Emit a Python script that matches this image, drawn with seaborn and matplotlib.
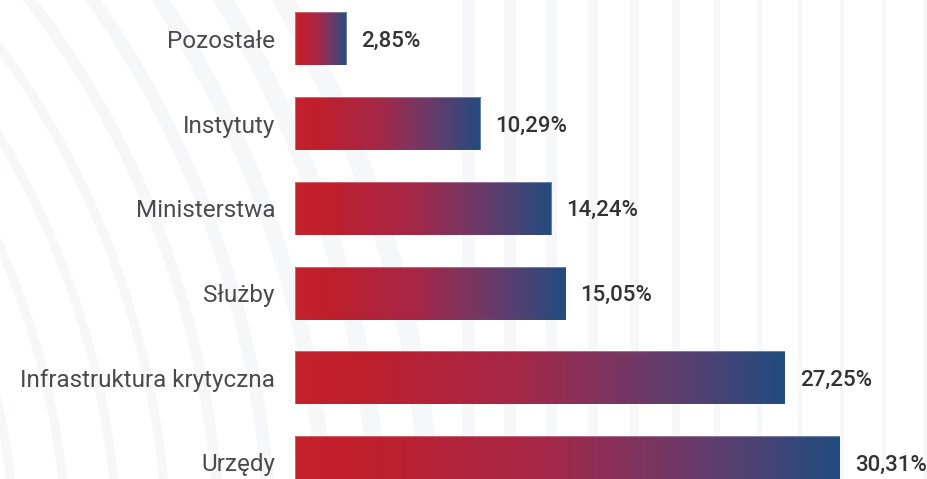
import numpy as np
import matplotlib
matplotlib.use("Agg")
import matplotlib.pyplot as plt
from matplotlib.colors import LinearSegmentedColormap
from matplotlib.patches import Circle
import pandas as pd
import seaborn as sns

# Share of reported incidents by type of institution (%)
categories = ["Pozostałe", "Instytuty", "Ministerstwa", "Służby",
              "Infrastruktura krytyczna", "Urzędy"]
shares = [2.85, 10.29, 14.24, 15.05, 27.25, 30.31]
value_labels = ["2,85%", "10,29%", "14,24%", "15,05%", "27,25%", "30,31%"]

W, H, DPI = 927, 479, 100
PX = 72 / DPI  # points per pixel

sns.set_theme(style="white")
plt.rcParams["font.family"] = ["Roboto", "DejaVu Sans"]

fig = plt.figure(figsize=(W / DPI, H / DPI), dpi=DPI, facecolor="white")

# --- faint decorative rings in the background (pixel coordinates) ---
bg = fig.add_axes([0, 0, 1, 1], zorder=0)
bg.set_xlim(0, W)
bg.set_ylim(H, 0)
bg.axis("off")
ring_color = "#f6f7f9"
cx, cy = -700, 560
ring_x = [5, 57, 108, 158, 210, 260, 315, 367, 418]
ring_w = [9, 9, 9, 9, 11, 13, 16, 18, 20]
for xb, wpx in zip(ring_x, ring_w):
    r = np.hypot(xb + wpx / 2 - cx, cy - 470)
    bg.add_patch(Circle((cx, cy), r, fill=False, lw=wpx * PX, ec=ring_color))
for i, xs in enumerate(range(462, W, 42)):
    wpx = max(13 - 1.1 * i, 4)
    bg.axvline(xs + wpx / 2, lw=wpx * PX, color=ring_color)

# --- bar chart ---
left_px = 295
ax = fig.add_axes([left_px / W, 0, 1 - left_px / W, 1], zorder=1)
ax.patch.set_alpha(0)

df = pd.DataFrame({"kategoria": categories, "udzial": shares})
sns.barplot(data=df, x="udzial", y="kategoria", order=categories,
            orient="h", width=0.626, color="#c0202a", ax=ax)

px_per_unit = 545 / 30.31

cmap = LinearSegmentedColormap.from_list(
    "red_blue",
    [(0.0, "#c4212a"), (0.12, "#bf1f2c"), (0.45, "#a62747"),
     (0.72, "#6c3a69"), (1.0, "#224c7f")])
grad = np.linspace(0, 1, 256).reshape(1, -1)
for p in list(ax.patches):
    x0, y0 = p.get_x(), p.get_y()
    w, h = p.get_width(), p.get_height()
    im = ax.imshow(grad, cmap=cmap, aspect="auto", interpolation="bicubic",
                   extent=[x0, x0 + w, y0 + h, y0], zorder=2)
    im.set_clip_path(p)
    p.set_facecolor("none")
    p.set_edgecolor((1, 1, 1, 0.3))
    p.set_linewidth(0.8)
    p.set_zorder(3)

ax.set_xlim(0, (W - left_px) / px_per_unit)
ax.set_ylim(5.195, -0.46)

for i, (v, lab) in enumerate(zip(shares, value_labels)):
    ax.annotate(lab, xy=(v, i), xytext=(15 * PX, -2.5 * PX),
                textcoords="offset points", ha="left", va="center",
                fontsize=16, fontweight=500, color="#333333", zorder=4)

ax.set_xlabel("")
ax.set_ylabel("")
ax.set_xticks([])
ax.tick_params(axis="y", length=0, pad=20 * PX, labelsize=17.5,
               labelcolor="#4b4b4b")
for s in ax.spines.values():
    s.set_visible(False)
ax.grid(False)

fig.savefig("out.png", dpi=DPI, facecolor="white")
